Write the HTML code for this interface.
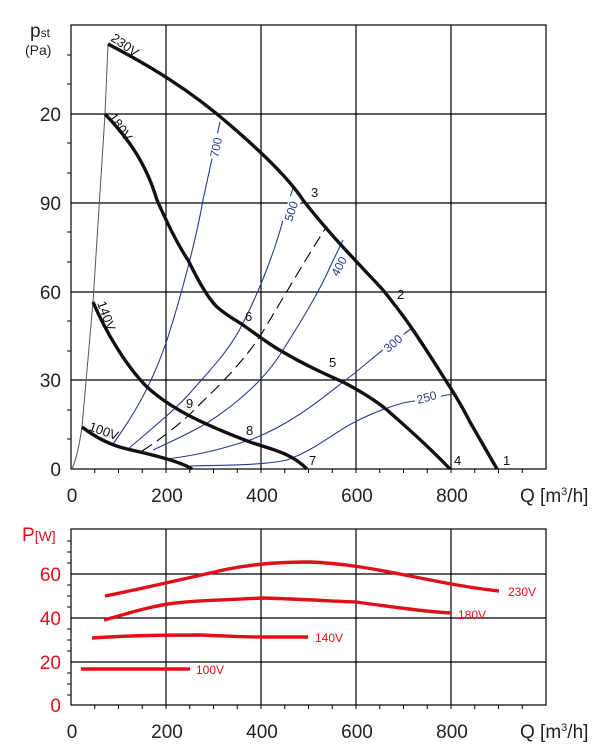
<!DOCTYPE html>
<html><head><meta charset="utf-8"><style>
html,body{margin:0;padding:0;background:#fff;}
svg{display:block;font-family:"Liberation Sans",sans-serif;}
</style></head><body>
<svg width="616" height="756" viewBox="0 0 616 756" xmlns="http://www.w3.org/2000/svg">
<g stroke="#000" stroke-width="1.2" fill="none">
<rect x="71" y="25" width="475" height="444"/>
<line x1="166" y1="25" x2="166" y2="469"/><line x1="261" y1="25" x2="261" y2="469"/>
<line x1="356" y1="25" x2="356" y2="469"/><line x1="451" y1="25" x2="451" y2="469"/>
<line x1="71" y1="114" x2="546" y2="114"/><line x1="71" y1="203" x2="546" y2="203"/>
<line x1="71" y1="292" x2="546" y2="292"/><line x1="71" y1="380" x2="546" y2="380"/>
</g>
<g stroke="#000" stroke-width="1">
<path d="M67 55h4M67 84h4M67 143h4M67 173h4M67 232h4M67 262h4M67 321h4M67 351h4M67 410h4M67 439h4"/>
<path d="M94.75 469v4M118.5 469v4M142.25 469v4M166 469v4M189.75 469v4M213.5 469v4M237.25 469v4M261 469v4M284.75 469v4M308.5 469v4M332.25 469v4M356 469v4M379.75 469v4M403.5 469v4M427.25 469v4M451 469v4M474.75 469v4M498.5 469v4M522.25 469v4"/>
</g>
<g font-size="19" fill="#222" text-anchor="end">
<text x="61" y="121">20</text><text x="61" y="210">90</text><text x="61" y="299">60</text><text x="61" y="387">30</text><text x="61" y="476">0</text>
</g>
<text x="30" y="37" font-size="19" fill="#222">p<tspan font-size="12">st</tspan></text>
<text x="25" y="55" font-size="14" fill="#222">(Pa)</text>
<g font-size="19" fill="#222" text-anchor="middle">
<text x="72" y="502">0</text><text x="167" y="502">200</text><text x="262" y="502">400</text><text x="357" y="502">600</text><text x="452" y="502">800</text>
</g>
<text x="520" y="502" font-size="19" fill="#222">Q [m<tspan font-size="11" dy="-7">3</tspan><tspan dy="7">/h]</tspan></text>
<path d="M108 44 L105 114 L93 302 L82 427 Q78 455 72 469" stroke="#555" stroke-width="1" fill="none"/>
<g stroke="#2a3a8c" stroke-width="1.1" fill="none">
<path d="M113 444 C130 420 150 390 167 340 C180 300 196 240 203 200 L220 122"/>
<path d="M127 450 C150 430 175 410 190 393 C210 370 230 350 243 323 C260 290 275 250 283 220 L293 188"/>
<path d="M153 450 C175 440 195 430 207 423 C235 405 265 380 283 350 C305 315 320 290 330 267 L343 240"/>
<path d="M167 459 C200 455 225 448 250 440 C290 425 320 400 343 382 C360 370 375 355 387 347 L412 328"/>
<path d="M190 466 C230 465 265 465 287 460 C315 450 335 432 353 423 C370 414 385 408 403 403 L453 394"/>
</g>
<path d="M142 451 C160 440 185 420 197 407 C220 385 245 360 262 333 C285 295 305 260 327 226" stroke="#000" stroke-width="1.1" fill="none" stroke-dasharray="12,6"/>
<g fill="#fff">
<rect x="-2" y="-10" width="26" height="12" transform="translate(218,158) rotate(-78)"/>
<rect x="-2" y="-10" width="26" height="12" transform="translate(292,222) rotate(-72)"/>
<rect x="-2" y="-10" width="26" height="12" transform="translate(338,277) rotate(-62)"/>
<rect x="-2" y="-10" width="26" height="12" transform="translate(388,353) rotate(-40)"/>
<rect x="-2" y="-10" width="26" height="12" transform="translate(418,404) rotate(-15)"/>
</g>
<g font-size="12" fill="#2a3a8c">
<text transform="translate(218,158) rotate(-78)">700</text>
<text transform="translate(292,222) rotate(-72)">500</text>
<text transform="translate(338,277) rotate(-62)">400</text>
<text transform="translate(388,353) rotate(-40)">300</text>
<text transform="translate(418,404) rotate(-15)">250</text>
</g>
<g stroke="#111" stroke-width="3.4" fill="none" stroke-linejoin="round">
<path d="M108 44 C150 66 190 90 230 125 C265 155 290 180 303 200 C330 235 360 265 383 290 C395 305 405 318 413 330 C430 355 442 375 450 387 C460 403 465 412 470 422 L497 469"/>
<path d="M105 114 C125 135 145 160 157 200 C168 225 178 245 188 260 C198 280 207 297 217 307 C230 318 236 320 243 325 C260 337 270 345 283 352 C305 365 325 374 343 382 C362 392 375 400 387 410 C410 430 430 448 450 469"/>
<path d="M93 302 C105 330 125 365 147 387 C170 408 200 423 250 442 C270 449 290 452 307 469"/>
<path d="M82 427 C95 437 110 445 127 449 C145 453 157 456 167 459 C177 462 186 465 192 469"/>
</g>
<g font-size="13" fill="#111">
<text transform="translate(110,40) rotate(35)">230V</text>
<text transform="translate(108,117) rotate(55)">180V</text>
<text transform="translate(97,303) rotate(70)">140V</text>
<text transform="translate(88,430) rotate(20)">100V</text>
<text x="311" y="197">3</text><text x="397" y="299">2</text><text x="245" y="321">6</text>
<text x="329" y="367">5</text><text x="186" y="408">9</text><text x="246" y="435">8</text>
<text x="309" y="465">7</text><text x="454" y="465">4</text><text x="503" y="465">1</text>
</g>
<g stroke="#000" stroke-width="1.2" fill="none">
<rect x="71" y="529" width="475" height="176"/>
<line x1="166" y1="529" x2="166" y2="705"/><line x1="261" y1="529" x2="261" y2="705"/>
<line x1="356" y1="529" x2="356" y2="705"/><line x1="451" y1="529" x2="451" y2="705"/>
<line x1="71" y1="574" x2="546" y2="574"/><line x1="71" y1="618" x2="546" y2="618"/><line x1="71" y1="662" x2="546" y2="662"/>
</g>
<g stroke="#000" stroke-width="1">
<path d="M67 541h4M67 552h4M67 563h4M67 585h4M67 596h4M67 607h4M67 629h4M67 640h4M67 651h4M67 673h4M67 684h4M67 695h4"/>
<path d="M94.75 705v4M118.5 705v4M142.25 705v4M166 705v4M189.75 705v4M213.5 705v4M237.25 705v4M261 705v4M284.75 705v4M308.5 705v4M332.25 705v4M356 705v4M379.75 705v4M403.5 705v4M427.25 705v4M451 705v4M474.75 705v4M498.5 705v4M522.25 705v4"/>
</g>
<g font-size="19" fill="#e0101a" text-anchor="end">
<text x="61" y="581">60</text><text x="61" y="625">40</text><text x="61" y="669">20</text><text x="61" y="712">0</text>
</g>
<text x="22" y="541" font-size="19" fill="#e0101a">P<tspan font-size="14">[W]</tspan></text>
<g font-size="19" fill="#222" text-anchor="middle">
<text x="72" y="738">0</text><text x="167" y="738">200</text><text x="262" y="738">400</text><text x="357" y="738">600</text><text x="452" y="738">800</text>
</g>
<text x="520" y="738" font-size="19" fill="#222">Q [m<tspan font-size="11" dy="-7">3</tspan><tspan dy="7">/h]</tspan></text>
<g stroke="#e0101a" stroke-width="3.4" fill="none">
<path d="M105 596 C140 589 170 582 228 569 C260 563 285 562 310 562 C340 563 370 568 410 576 C440 582 470 588 499 591"/>
<path d="M104 620 C130 613 150 606 176 603 C200 600 230 600 261 598 C300 599 330 601 356 602 C400 608 430 612 451 613"/>
<path d="M92 638 C120 636 150 635 200 635 C230 636 240 637 261 637 L308 637"/>
<path d="M81 669 L190 669"/>
</g>
<g font-size="12" fill="#e0101a">
<text x="508" y="596">230V</text><text x="458" y="619">180V</text><text x="315" y="642">140V</text><text x="196" y="674">100V</text>
</g>
</svg>
</body></html>
